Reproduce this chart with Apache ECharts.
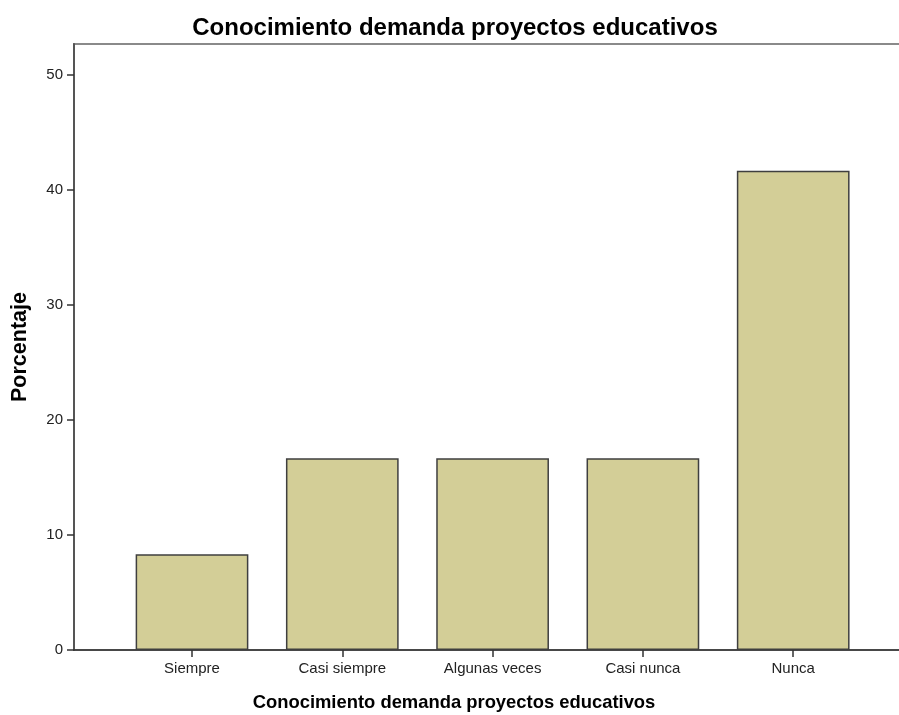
<!DOCTYPE html>
<html>
<head>
<meta charset="utf-8">
<script src="https://cdn.jsdelivr.net/npm/echarts@6/dist/echarts.min.js"></script>
<style>
html,body{margin:0;padding:0;background:#fff;}
#chart{width:899px;height:715px;}
</style>
</head>
<body>
<div id="chart"></div>
<script>
const chartTitle = 'Conocimiento demanda proyectos educativos';
const xAxisName = 'Conocimiento demanda proyectos educativos';
const yAxisName = 'Porcentaje';
const categories = ['Siempre', 'Casi siempre', 'Algunas veces', 'Casi nunca', 'Nunca'];
const percentages = [8.33, 16.67, 16.67, 16.67, 41.67];
const yTicks = [0, 10, 20, 30, 40, 50];
const yMin = 0, yMax = 52.7, yStep = 10;

const FONT = '"Liberation Sans", Arial, sans-serif';
const chart = echarts.init(document.getElementById('chart'), null, {renderer: 'canvas'});
chart.setOption({
  backgroundColor: '#ffffff',
  animation: false,
  title: [
    {text: chartTitle, left: 455, top: 16, textAlign: 'center', padding: 0,
     textStyle: {fontFamily: FONT, fontSize: 24, fontWeight: 'bold', color: '#000'}},
    {text: xAxisName, left: 454, top: 694, textAlign: 'center', padding: 0,
     textStyle: {fontFamily: FONT, fontSize: 18.4, fontWeight: 'bold', color: '#000'}}
  ],
  grid: [
    {left: 74, top: 44, right: -40, bottom: 65, outerBoundsMode: 'none', containLabel: false,
     show: true, borderColor: '#8a8a8a', borderWidth: 2, backgroundColor: 'transparent'},
    {left: 116.85, right: 30.65, top: 44, bottom: 65, outerBoundsMode: 'none', containLabel: false}
  ],
  xAxis: [
    {gridIndex: 0, type: 'value', min: 0, max: 1,
     axisLine: {show: true, lineStyle: {color: '#333', width: 1.5}},
     axisTick: {show: false}, axisLabel: {show: false}, splitLine: {show: false}},
    {gridIndex: 1, type: 'category', data: categories,
     axisLine: {show: false},
     axisTick: {show: true, alignWithLabel: true, length: 7, lineStyle: {color: '#333', width: 1.5}},
     axisLabel: {fontFamily: FONT, fontSize: 15, color: '#222', margin: 11}}
  ],
  yAxis: [
    {gridIndex: 0, type: 'value', min: yMin, max: yMax, interval: yStep,
     name: yAxisName, nameLocation: 'middle', nameGap: 43, nameRotate: 90,
     nameTextStyle: {fontFamily: FONT, fontSize: 21.5, fontWeight: 'bold', color: '#000'},
     axisLine: {show: true, lineStyle: {color: '#555', width: 2}},
     axisTick: {show: true, length: 7, customValues: yTicks, lineStyle: {color: '#333', width: 1.5}},
     axisLabel: {fontFamily: FONT, fontSize: 15, color: '#222', margin: 11, customValues: yTicks},
     splitLine: {show: false}},
    {gridIndex: 1, type: 'value', min: yMin, max: yMax, interval: yStep,
     axisLine: {show: false}, axisTick: {show: false}, axisLabel: {show: false}, splitLine: {show: false}}
  ],
  series: [{
    type: 'bar', xAxisIndex: 1, yAxisIndex: 1, data: percentages,
    barCategoryGap: '25%',
    itemStyle: {color: '#d3ce97', borderColor: '#3f3f3f', borderWidth: 1.5}
  }]
});
</script>
</body>
</html>
